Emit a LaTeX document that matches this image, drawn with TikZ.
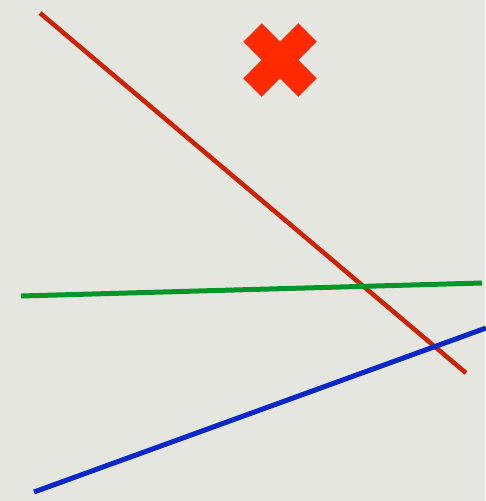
\documentclass[tikz,border=0pt]{standalone}
\usepackage{tikz}
\usepackage{xcolor}
\definecolor{paper}{HTML}{E6E6E1}
\definecolor{redline}{HTML}{CC2200}
\definecolor{greenline}{HTML}{00962A}
\definecolor{blueline}{HTML}{0A28C8}
\definecolor{crossred}{HTML}{FF2A00}
\begin{document}
\begin{tikzpicture}[x=1pt,y=-1pt]%
          \fill [paper] (0,0) rectangle (485,501);%
          \useasboundingbox (0,0) rectangle (485,501);%
          \coordinate (R1) at (40,13);%
          \coordinate (R2) at (466,373);%
          \coordinate (G1) at (21,296);%
          \coordinate (G2) at (482,283);%
          \coordinate (B1) at (34,492);%
          \coordinate (B2) at (486,328);%
          \coordinate (X1) at (252.5,32.5);%
          \coordinate (X2) at (307.5,87.5);%
          \coordinate (X3) at (307.5,32.5);%
          \coordinate (X4) at (252.5,87.5);%
          \draw [redline,line width=4.5pt] (R1) to (R2);%
          \draw [greenline,line width=5pt] (G1) to (G2);%
          \draw [blueline,line width=5pt] (B1) to (B2);%
          \draw [crossred,line width=26pt] (X1) to (X2);%
          \draw [crossred,line width=26pt] (X3) to (X4);%
        \end{tikzpicture}
\end{document}
